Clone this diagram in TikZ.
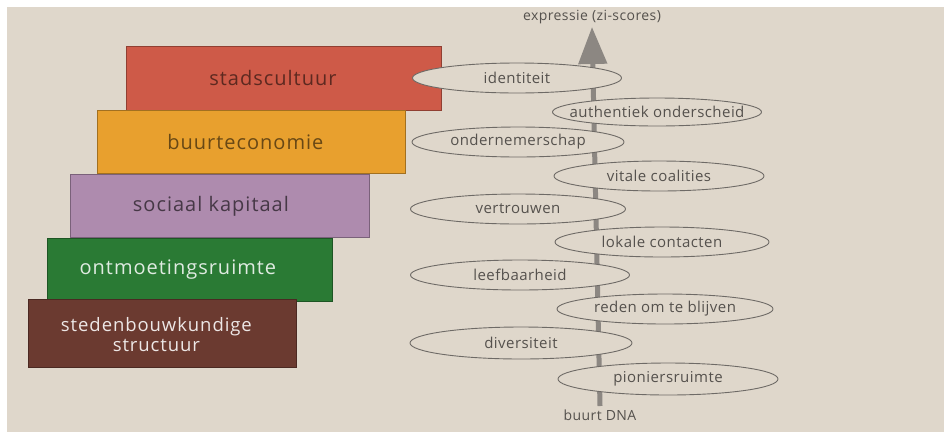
\documentclass[tikz,border=0pt]{standalone}
\usepackage{fontspec}
\setmainfont{Open Sans}
\newfontfamily\spaced[LetterSpace=5]{Open Sans}
\newfontfamily\spacedb[LetterSpace=3]{Open Sans}
\usetikzlibrary{arrows.meta,shapes.geometric}
\definecolor{page}{HTML}{DFD7CB}
\definecolor{axisgray}{HTML}{8C8782}
\definecolor{ellline}{HTML}{6E6A66}
\definecolor{elltext}{HTML}{55514D}
\definecolor{cred}{HTML}{CE5A48}
\definecolor{cora}{HTML}{E8A02E}
\definecolor{cpur}{HTML}{AE8BAE}
\definecolor{cgre}{HTML}{2A7A34}
\definecolor{cbro}{HTML}{6B3A30}
\tikzset{
  layer/.style={draw=#1!70!black, fill=#1, line width=0.8pt, anchor=north west, inner sep=0pt},
  layertext/.style={font=\spaced\fontsize{20}{22}\selectfont, align=center, inner sep=0pt},
  factor/.style={ellipse, draw=ellline, fill=page, line width=0.9pt, minimum height=30pt,
    inner ysep=0pt, inner xsep=-15pt,
    text=elltext, font=\spacedb\fontsize{15}{17}\selectfont},
  axislabel/.style={text=elltext, font=\spacedb\fontsize{14}{16}\selectfont, inner sep=0pt}
}
\begin{document}
\begin{tikzpicture}[x=1pt,y=-1pt]
\useasboundingbox (0,0) rectangle (944,432);
\fill[white] (0,0) rectangle (944,432);
\fill[page] (7,7) rectangle (944,432);

% layers
\node[layer=cred, minimum width=315pt, minimum height=64pt] (L1) at (126,46) {};
\node[layer=cora, minimum width=308pt, minimum height=63pt] (L2) at (97,110) {};
\node[layer=cpur, minimum width=299pt, minimum height=63pt] (L3) at (70,174) {};
\node[layer=cgre, minimum width=285pt, minimum height=63pt] (L4) at (47,238) {};
\node[layer=cbro, minimum width=268pt, minimum height=68pt] (L5) at (28,299) {};

\node[layertext, text=cred!45!black] (T1) at ([xshift=-11pt]L1.center) {stadscultuur};
\node[layertext, text=cora!45!black] (T2) at ([xshift=-6pt]L2.center) {buurteconomie};
\node[layertext, text=cpur!40!black] (T3) at ([xshift=-9pt]L3.center) {sociaal kapitaal};
\node[layertext, text=cgre!15!white] (T4) at ([xshift=-12pt]L4.center) {ontmoetingsruimte};
\node[layertext, text=cbro!12!white, font=\spaced\fontsize{18.5}{20}\selectfont] (T5) at ([xshift=-6pt,yshift=-1pt]L5.center) {stedenbouwkundige\\structuur};

% axis
\coordinate (abot) at (600,406);
\coordinate (atop) at (592,27);
\draw[axisgray, line width=5pt, -{Triangle[width=28pt,length=37pt]}] (abot) -- (atop);
\node[axislabel, anchor=south] (top) at ([yshift=3pt]atop) {expressie (zi-scores)};
\node[axislabel, anchor=north] (bot) at ([yshift=-4pt]abot) {buurt DNA};

% factors
\node[factor, minimum width=209pt] (f1) at (517,78) {identiteit};
\node[factor, minimum width=209pt, minimum height=28pt] (f2) at (657,112) {authentiek onderscheid};
\node[factor, minimum width=212pt] (f3) at (518,142) {ondernemerschap};
\node[factor, minimum width=210pt] (f4) at (659,176) {vitale coalities};
\node[factor, minimum width=215pt] (f5) at (518,209) {vertrouwen};
\node[factor, minimum width=214pt] (f6) at (662,242) {lokale contacten};
\node[factor, minimum width=219pt] (f7) at (520,275) {leefbaarheid};
\node[factor, minimum width=216pt] (f8) at (665,309) {reden om te blijven};
\node[factor, minimum width=222pt, minimum height=32pt] (f9) at (521,343) {diversiteit};
\node[factor, minimum width=220pt, minimum height=32pt] (f10) at (668,379) {pioniersruimte};
\end{tikzpicture}
\end{document}
